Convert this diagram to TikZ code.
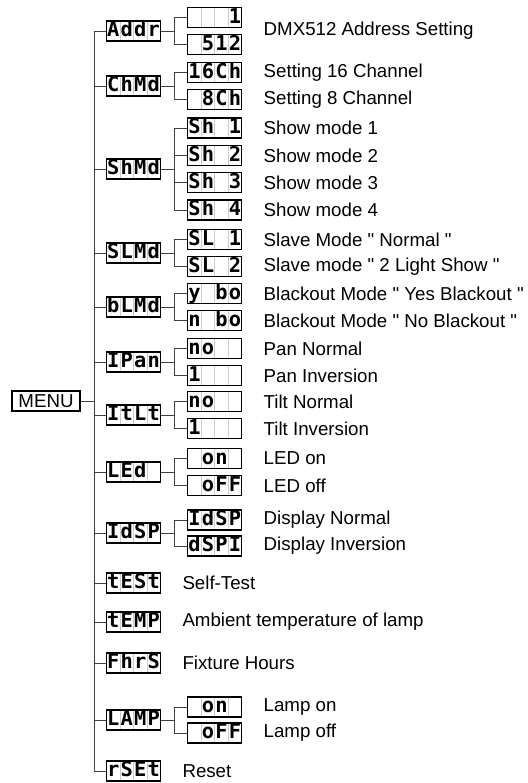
\documentclass[tikz,border=0pt]{standalone}
\usepackage{fontspec}
\setmainfont{Liberation Sans}[Ligatures=TeXOff]
\newfontfamily\lcdfont{DejaVu Sans Mono}
\usetikzlibrary{positioning}
\newcommand{\lcd}[4]{\makebox[6.75pt]{#1}\makebox[6.75pt]{#2}\makebox[6.75pt]{#3}\makebox[6.75pt]{#4}}

\begin{document}
\begin{tikzpicture} [
        x=0.5pt, y=-0.5pt,
        font=\fontsize{9.35}{11}\selectfont,
        disp/.style={rectangle, draw=black, line width=0.6pt, inner sep=0pt, minimum width=27pt, minimum height=10pt, text height=7.8pt, text depth=2.2pt, font=\lcdfont\bfseries\fontsize{10.2}{10.2}\selectfont,
            path picture={\foreach \k in {1,2,3} \draw[gray!40, line width=0.5pt] ([xshift=\k*6.75pt]path picture bounding box.south west) -- ([xshift=\k*6.75pt]path picture bounding box.north west);}},
        menubox/.style={rectangle, draw, line width=0.6pt, inner sep=0pt, minimum width=34pt, minimum height=10pt},
        desc/.style={inner sep=0pt},
        line/.style={draw, black!75, line width=0.5pt}
    ]
        \useasboundingbox (0,0) rectangle (527,783);

        % Nodes
        \node[menubox] (menu) at (46,401) {MENU};

        \node[disp] (addr) at (133.5,31) {\lcd{A}{d}{d}{r}};
        \node[disp] (chmd) at (133.5,86) {\lcd{C}{h}{M}{d}};
        \node[disp] (shmd) at (133.5,169) {\lcd{S}{h}{M}{d}};
        \node[disp] (slmd) at (133.5,253) {\lcd{S}{L}{M}{d}};
        \node[disp] (blmd) at (133.5,307) {\lcd{b}{L}{M}{d}};
        \node[disp] (ipan) at (133.5,362) {\lcd{I}{P}{a}{n}};
        \node[disp] (itlt) at (133.5,415) {\lcd{I}{t}{L}{t}};
        \node[disp] (led) at (133.5,472) {\lcd{L}{E}{d}{}};
        \node[disp] (idsp) at (133.5,533) {\lcd{I}{d}{S}{P}};
        \node[disp] (test) at (133.5,583) {\lcd{t}{E}{S}{t}};
        \node[disp] (temp) at (133.5,622) {\lcd{t}{E}{M}{P}};
        \node[disp] (fhrs) at (133.5,663) {\lcd{F}{h}{r}{S}};
        \node[disp] (lamp) at (133.5,720) {\lcd{L}{A}{M}{P}};
        \node[disp] (rset) at (133.5,771) {\lcd{r}{S}{E}{t}};

        \node[disp, right=13pt of addr, yshift=6.75pt] (addr1) {\lcd{}{}{}{1}};
        \node[disp, right=13pt of addr, yshift=-6.75pt] (addr2) {\lcd{}{5}{1}{2}};
        \node[disp, right=13pt of chmd, yshift=6.75pt] (ch1) {\lcd{1}{6}{C}{h}};
        \node[disp, right=13pt of chmd, yshift=-6.75pt] (ch2) {\lcd{}{8}{C}{h}};
        \node[disp, right=13pt of shmd, yshift=20.5pt] (sh1) {\lcd{S}{h}{}{1}};
        \node[disp, right=13pt of shmd, yshift=6.75pt] (sh2) {\lcd{S}{h}{}{2}};
        \node[disp, right=13pt of shmd, yshift=-6.75pt] (sh3) {\lcd{S}{h}{}{3}};
        \node[disp, right=13pt of shmd, yshift=-20.5pt] (sh4) {\lcd{S}{h}{}{4}};
        \node[disp, right=13pt of slmd, yshift=6.75pt] (sl1) {\lcd{S}{L}{}{1}};
        \node[disp, right=13pt of slmd, yshift=-6.75pt] (sl2) {\lcd{S}{L}{}{2}};
        \node[disp, right=13pt of blmd, yshift=6.75pt] (bl1) {\lcd{y}{}{b}{o}};
        \node[disp, right=13pt of blmd, yshift=-6.75pt] (bl2) {\lcd{n}{}{b}{o}};
        \node[disp, right=13pt of ipan, yshift=6.75pt] (pan1) {\lcd{n}{o}{}{}};
        \node[disp, right=13pt of ipan, yshift=-6.75pt] (pan2) {\lcd{1}{}{}{}};
        \node[disp, right=13pt of itlt, yshift=6.75pt] (tilt1) {\lcd{n}{o}{}{}};
        \node[disp, right=13pt of itlt, yshift=-6.75pt] (tilt2) {\lcd{1}{}{}{}};
        \node[disp, right=13pt of led, yshift=6.75pt] (led1) {\lcd{}{o}{n}{}};
        \node[disp, right=13pt of led, yshift=-6.75pt] (led2) {\lcd{}{o}{F}{F}};
        \node[disp, right=13pt of idsp, yshift=6.5pt] (dsp1) {\lcd{I}{d}{S}{P}};
        \node[disp, right=13pt of idsp, yshift=-6.5pt] (dsp2) {\lcd{d}{S}{P}{I}};
        \node[disp, right=13pt of lamp, yshift=6.5pt] (lamp1) {\lcd{}{o}{n}{}};
        \node[disp, right=13pt of lamp, yshift=-6.5pt] (lamp2) {\lcd{}{o}{F}{F}};

        % Texts
        \coordinate (addrmid) at (addr1.east |- addr);
        \node[desc, right=10.5pt of addrmid] (addrtxt) {DMX512 Address Setting};
        \node[desc, right=10.5pt of ch1] (ch1txt) {Setting 16 Channel};
        \node[desc, right=10.5pt of ch2] (ch2txt) {Setting 8 Channel};
        \node[desc, right=10.5pt of sh1] (sh1txt) {Show mode 1};
        \node[desc, right=10.5pt of sh2] (sh2txt) {Show mode 2};
        \node[desc, right=10.5pt of sh3] (sh3txt) {Show mode 3};
        \node[desc, right=10.5pt of sh4] (sh4txt) {Show mode 4};
        \node[desc, right=10.5pt of sl1] (sl1txt) {Slave Mode " Normal "};
        \node[desc, right=10.5pt of sl2] (sl2txt) {Slave mode " 2 Light Show "};
        \node[desc, right=10.5pt of bl1] (bl1txt) {Blackout Mode " Yes Blackout "};
        \node[desc, right=10.5pt of bl2] (bl2txt) {Blackout Mode " No Blackout "};
        \node[desc, right=10.5pt of pan1] (pan1txt) {Pan Normal};
        \node[desc, right=10.5pt of pan2] (pan2txt) {Pan Inversion};
        \node[desc, right=10.5pt of tilt1] (tilt1txt) {Tilt Normal};
        \node[desc, right=10.5pt of tilt2] (tilt2txt) {Tilt Inversion};
        \node[desc, right=10.5pt of led1] (led1txt) {LED on};
        \node[desc, right=10.5pt of led2] (led2txt) {LED off};
        \node[desc, right=10.5pt of dsp1] (dsp1txt) {Display Normal};
        \node[desc, right=10.5pt of dsp2] (dsp2txt) {Display Inversion};
        \node[desc, right=10.5pt of test] (testtxt) {Self-Test};
        \node[desc, right=10.5pt of temp] (temptxt) {Ambient temperature of lamp};
        \node[desc, right=10.5pt of fhrs] (fhrstxt) {Fixture Hours};
        \node[desc, right=10.5pt of lamp1] (lamp1txt) {Lamp on};
        \node[desc, right=10.5pt of lamp2] (lamp2txt) {Lamp off};
        \node[desc, right=10.5pt of rset] (rsettxt) {Reset};

        % Paths
        \path [line] (menu.east) -- ++(7pt,0) |- (addr.west);
        \path [line] (menu.east) -- ++(7pt,0) |- (chmd.west);
        \path [line] (menu.east) -- ++(7pt,0) |- (shmd.west);
        \path [line] (menu.east) -- ++(7pt,0) |- (slmd.west);
        \path [line] (menu.east) -- ++(7pt,0) |- (blmd.west);
        \path [line] (menu.east) -- ++(7pt,0) |- (ipan.west);
        \path [line] (menu.east) -- ++(7pt,0) |- (itlt.west);
        \path [line] (menu.east) -- ++(7pt,0) |- (led.west);
        \path [line] (menu.east) -- ++(7pt,0) |- (idsp.west);
        \path [line] (menu.east) -- ++(7pt,0) |- (test.west);
        \path [line] (menu.east) -- ++(7pt,0) |- (temp.west);
        \path [line] (menu.east) -- ++(7pt,0) |- (fhrs.west);
        \path [line] (menu.east) -- ++(7pt,0) |- (lamp.west);
        \path [line] (menu.east) -- ++(7pt,0) |- (rset.west);

        \path [line] (addr.east) -- ++(6.5pt,0) |- (addr1.west);
        \path [line] (addr.east) -- ++(6.5pt,0) |- (addr2.west);
        \path [line] (chmd.east) -- ++(6.5pt,0) |- (ch1.west);
        \path [line] (chmd.east) -- ++(6.5pt,0) |- (ch2.west);
        \path [line] (shmd.east) -- ++(6.5pt,0) |- (sh1.west);
        \path [line] (shmd.east) -- ++(6.5pt,0) |- (sh2.west);
        \path [line] (shmd.east) -- ++(6.5pt,0) |- (sh3.west);
        \path [line] (shmd.east) -- ++(6.5pt,0) |- (sh4.west);
        \path [line] (slmd.east) -- ++(6.5pt,0) |- (sl1.west);
        \path [line] (slmd.east) -- ++(6.5pt,0) |- (sl2.west);
        \path [line] (blmd.east) -- ++(6.5pt,0) |- (bl1.west);
        \path [line] (blmd.east) -- ++(6.5pt,0) |- (bl2.west);
        \path [line] (ipan.east) -- ++(6.5pt,0) |- (pan1.west);
        \path [line] (ipan.east) -- ++(6.5pt,0) |- (pan2.west);
        \path [line] (itlt.east) -- ++(6.5pt,0) |- (tilt1.west);
        \path [line] (itlt.east) -- ++(6.5pt,0) |- (tilt2.west);
        \path [line] (led.east) -- ++(6.5pt,0) |- (led1.west);
        \path [line] (led.east) -- ++(6.5pt,0) |- (led2.west);
        \path [line] (idsp.east) -- ++(6.5pt,0) |- (dsp1.west);
        \path [line] (idsp.east) -- ++(6.5pt,0) |- (dsp2.west);
        \path [line] (lamp.east) -- ++(6.5pt,0) |- (lamp1.west);
        \path [line] (lamp.east) -- ++(6.5pt,0) |- (lamp2.west);
    \end{tikzpicture}
\end{document}
